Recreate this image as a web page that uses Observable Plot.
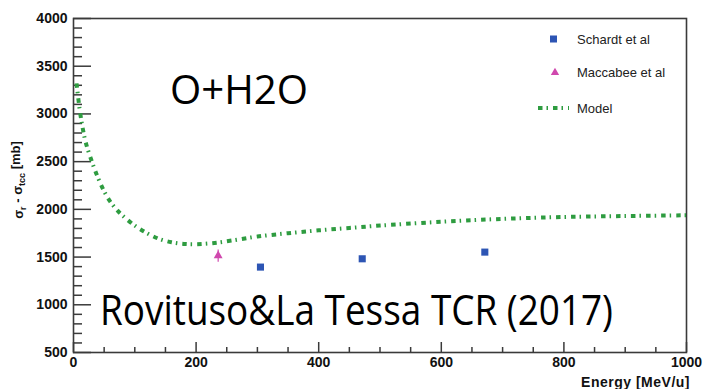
<!DOCTYPE html>
<html>
<head>
<meta charset="utf-8">
<script src="https://cdn.jsdelivr.net/npm/d3@7"></script>
<script src="https://cdn.jsdelivr.net/npm/@observablehq/plot@0.6"></script>
<style>
  html, body { margin: 0; padding: 0; background: #fff; }
  #chart { position: relative; width: 705px; height: 389px; }
</style>
</head>
<body>
<div id="chart"></div>
<script>
// ---- data ----
const modelEnergy = [5, 10, 15, 20, 30, 40, 50, 60, 70, 80, 100, 120, 140, 160, 180, 200, 230, 260, 300, 350, 400, 450, 500, 600, 700, 800, 900, 1000];
const modelSigma  = [3320, 3050, 2850, 2700, 2500, 2330, 2190, 2080, 2000, 1935, 1830, 1750, 1690, 1655, 1638, 1635, 1648, 1675, 1715, 1750, 1780, 1805, 1830, 1870, 1900, 1920, 1930, 1938];

const schardtEnergy = [305, 471, 671];
const schardtSigma  = [1395, 1482, 1552];

const maccabeeEnergy = [236];
const maccabeeSigma  = [1515];
const maccabeeLow    = [1445];
const maccabeeHigh   = [1575];

const xMajorTicks = [0, 200, 400, 600, 800, 1000];
const xMinorTicks = d3.range(0, 1001, 50).filter(v => v % 200 !== 0);
const yMajorTicks = [500, 1000, 1500, 2000, 2500, 3000, 3500, 4000];
const yMinorTicks = d3.range(500, 4001, 100).filter(v => v % 500 !== 0);

const legendLabels = ["Schardt et al", "Maccabee et al", "Model"];
const titleText = "O+H2O";
const sourceText = "Rovituso&La Tessa TCR (2017)";
const xLabel = "Energy [MeV/u]";

// ---- tables ----
const model = modelEnergy.map((e, i) => ({e, s: modelSigma[i]}));
const schardt = schardtEnergy.map((e, i) => ({e, s: schardtSigma[i]}));
const maccabee = maccabeeEnergy.map((e, i) => ({e, s: maccabeeSigma[i], lo: maccabeeLow[i], hi: maccabeeHigh[i]}));
const yMinor = yMinorTicks.map(v => ({v}));
const yMajor = yMajorTicks.map(v => ({v}));
const xMinor = xMinorTicks.map(v => ({v}));
const xMajor = xMajorTicks.map(v => ({v}));

const GREEN = "#2e9c40", BLUE = "#2d55b4", MAGENTA = "#d048ae", AXIS = "#3a3a3a";
const tickFont = "Liberation Sans, Arial, Helvetica, sans-serif";

const W = 705, H = 389, ML = 73, MR = 19, MT = 18, MB = 37;
const frameW = W - ML - MR, frameH = H - MT - MB;

const chart = Plot.plot({
  width: W,
  height: H,
  marginLeft: ML,
  marginRight: MR,
  marginTop: MT,
  marginBottom: MB,
  style: {fontFamily: tickFont, background: "#fff"},
  x: {domain: [0, 1000]},
  y: {domain: [500, 4000]},
  marks: [
    // inward ticks (ROOT style)
    Plot.tickY(yMinor, {y: "v", insetRight: frameW - 9, stroke: AXIS, strokeWidth: 1.5}),
    Plot.tickY(yMajor, {y: "v", insetRight: frameW - 18, stroke: AXIS, strokeWidth: 1.5}),
    Plot.tickX(xMinor, {x: "v", insetTop: frameH - 5, stroke: AXIS, strokeWidth: 1.5}),
    Plot.tickX(xMajor, {x: "v", insetTop: frameH - 10, stroke: AXIS, strokeWidth: 1.5}),
    Plot.axisY({ticks: yMajorTicks, anchor: "left", tickSize: 0, tickPadding: 6, fontWeight: "bold", fontSize: 14, fill: "#111", tickFormat: d => String(d), label: null}),
    Plot.axisX({ticks: xMajorTicks, anchor: "bottom", tickSize: 0, tickPadding: 5, fontWeight: "bold", fontSize: 14, fill: "#111", tickFormat: d => String(d), label: null}),
    Plot.frame({stroke: AXIS, strokeWidth: 1.6}),
    Plot.line(model, {x: "e", y: "s", curve: "catmull-rom", stroke: GREEN, strokeWidth: 4, strokeDasharray: "4.5,4,1.5,5", strokeLinecap: "butt"}),
    Plot.ruleX(maccabee, {x: "e", y1: "lo", y2: "hi", stroke: MAGENTA, strokeWidth: 1.2}),
    Plot.dot(maccabee, {x: "e", y: "s", symbol: "triangle", r: 3.3, fill: MAGENTA, stroke: "none"}),
    Plot.dot(schardt, {x: "e", y: "s", symbol: "square", r: 4, fill: BLUE, stroke: "none"})
  ]
});

document.getElementById("chart").appendChild(chart);

// ---- annotations, labels and legend ----
const svg = d3.select(chart);

// y-axis label with subscripts
const yl = svg.append("text")
  .attr("transform", "translate(23,180) rotate(-90)")
  .attr("text-anchor", "middle")
  .attr("font-family", tickFont)
  .attr("font-size", 13)
  .attr("font-weight", "bold")
  .attr("fill", "#111");
yl.append("tspan").text("σ");
yl.append("tspan").attr("font-size", 9).attr("dy", "0.35em").text("r");
yl.append("tspan").attr("dy", "-0.35em").text(" - σ");
yl.append("tspan").attr("font-size", 9).attr("dy", "0.35em").text("tcc");
yl.append("tspan").attr("dy", "-0.35em").text(" [mb]");

// x-axis label
svg.append("text")
  .attr("x", 690).attr("y", 387)
  .attr("text-anchor", "end")
  .attr("font-family", tickFont)
  .attr("font-size", 14)
  .attr("font-weight", "bold")
  .attr("letter-spacing", "0.5px")
  .attr("fill", "#111")
  .text(xLabel);

// large annotations
svg.append("text")
  .attr("x", 170).attr("y", 104)
  .attr("text-anchor", "start")
  .attr("font-family", "Open Sans, sans-serif")
  .attr("font-size", 40)
  .attr("textLength", 138)
  .attr("lengthAdjust", "spacingAndGlyphs")
  .attr("fill", "#000")
  .text(titleText);
svg.append("text")
  .attr("x", 100).attr("y", 325)
  .attr("text-anchor", "start")
  .attr("font-family", "Open Sans, sans-serif")
  .attr("font-size", 42)
  .attr("textLength", 513)
  .attr("lengthAdjust", "spacingAndGlyphs")
  .attr("fill", "#000")
  .text(sourceText);

// legend
const lg = svg.append("g").attr("font-family", tickFont).attr("font-size", 13).attr("fill", "#222").attr("text-anchor", "start");
lg.append("rect").attr("x", 550).attr("y", 35.5).attr("width", 7).attr("height", 7).attr("fill", BLUE);
lg.append("path").attr("d", d3.symbol(d3.symbolTriangle, 30)()).attr("transform", "translate(555,72.5)").attr("fill", MAGENTA);
lg.append("line").attr("x1", 538).attr("x2", 569).attr("y1", 108).attr("y2", 108)
  .attr("stroke", GREEN).attr("stroke-width", 4).attr("stroke-dasharray", "4.5,4,1.5,5");
legendLabels.forEach((t, i) => {
  lg.append("text").attr("x", 577).attr("y", [39, 72.5, 108][i]).attr("dy", "0.35em").text(t);
});
</script>
</body>
</html>
